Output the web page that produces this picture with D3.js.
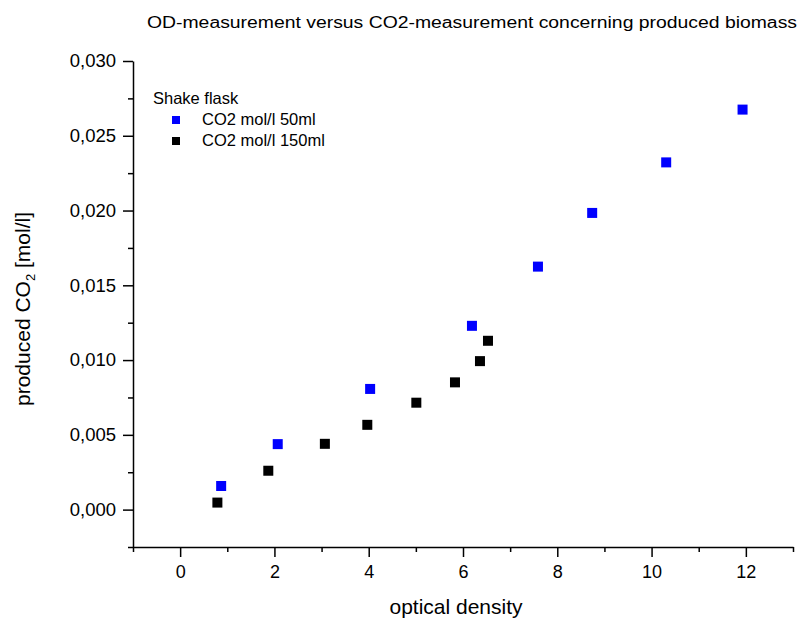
<!DOCTYPE html>
<html>
<head>
<meta charset="utf-8">
<script src="https://cdn.jsdelivr.net/npm/d3@7"></script>
<style>
  body { margin: 0; background: #fff; }
  svg { font-family: "Liberation Sans", Arial, sans-serif; }
</style>
</head>
<body>
<div id="chart"></div>
<script>
// shake flask data: optical density vs produced CO2 (mol/l)
const od50 = [0.87, 2.07, 4.03, 6.19, 7.59, 8.74, 10.31, 11.93];
const co2_50 = [0.00158, 0.00438, 0.00807, 0.01229, 0.01625, 0.01984, 0.02322, 0.02675];
const od150 = [0.79, 1.87, 3.07, 3.97, 5.01, 5.83, 6.36, 6.53];
const co2_150 = [0.00047, 0.0026, 0.0044, 0.00567, 0.00715, 0.00851, 0.00993, 0.01129];

const xMajor = [0, 2, 4, 6, 8, 10, 12];
const xMinor = [-1, 1, 3, 5, 7, 9, 11, 13];
const yMajor = [0, 0.005, 0.01, 0.015, 0.02, 0.025, 0.03];
const yMinor = [-0.0025, 0.0025, 0.0075, 0.0125, 0.0175, 0.0225, 0.0275];

const seriesNames = ["CO2 mol/l 50ml", "CO2 mol/l 150ml"];
const seriesColors = ["#0000ff", "#000000"];

const W = 800, H = 622;
const margin = { left: 133, right: 7, top: 61, bottom: 75 };
const width = W - margin.left - margin.right;
const height = H - margin.top - margin.bottom;

const svg = d3.select("#chart").append("svg")
  .attr("width", W).attr("height", H);

svg.append("rect").attr("width", W).attr("height", H).attr("fill", "#fff");

const g = svg.append("g")
  .attr("transform", `translate(${margin.left},${margin.top})`);

const x = d3.scaleLinear().domain([-1, 13]).range([0, width]);
const y = d3.scaleLinear().domain([-0.0025, 0.03]).range([height, 0]);

const comma = d3.formatLocale({ decimal: ",", thousands: ".", grouping: [3], currency: ["", ""] });
const yFmt = comma.format(".3f");

// minor ticks first
g.append("g")
  .attr("transform", `translate(0,${height})`)
  .call(d3.axisBottom(x).tickValues(xMinor).tickSize(5).tickFormat(""))
  .call(a => a.select(".domain").remove());
g.append("g")
  .call(d3.axisLeft(y).tickValues(yMinor).tickSize(5).tickFormat(""))
  .call(a => a.select(".domain").remove());

const xAxis = g.append("g")
  .attr("transform", `translate(0,${height})`)
  .call(d3.axisBottom(x).tickValues(xMajor).tickSize(10).tickSizeOuter(0).tickPadding(8));
const yAxis = g.append("g")
  .call(d3.axisLeft(y).tickValues(yMajor).tickSize(10).tickSizeOuter(0).tickPadding(7).tickFormat(yFmt));

g.selectAll(".tick line, .domain").attr("stroke", "#000").attr("stroke-width", 1.5);
xAxis.selectAll("text").attr("font-size", 18).attr("fill", "#000")
  .attr("font-family", "'Liberation Sans', Arial, sans-serif");
yAxis.selectAll("text").attr("font-size", 18.5).attr("fill", "#000")
  .attr("font-family", "'Liberation Sans', Arial, sans-serif");

// markers
const series = [
  { name: seriesNames[0], color: seriesColors[0], pts: od50.map((d, i) => [d, co2_50[i]]) },
  { name: seriesNames[1], color: seriesColors[1], pts: od150.map((d, i) => [d, co2_150[i]]) }
];
const ms = 10;
series.forEach(s => {
  g.selectAll(null).data(s.pts).enter().append("rect")
    .attr("x", d => x(d[0]) - ms / 2)
    .attr("y", d => y(d[1]) - ms / 2)
    .attr("width", ms).attr("height", ms)
    .attr("fill", s.color);
});

// title
svg.append("text")
  .attr("x", 147).attr("y", 28)
  .attr("font-size", 16)
  .attr("textLength", 650)
  .attr("lengthAdjust", "spacingAndGlyphs")
  .text("OD-measurement versus CO2-measurement concerning produced biomass");

// axis labels
svg.append("text")
  .attr("x", 456).attr("y", 614)
  .attr("text-anchor", "middle")
  .attr("font-size", 21)
  .text("optical density");

const yl = svg.append("text")
  .attr("transform", "translate(30,309) rotate(-90)")
  .attr("text-anchor", "middle")
  .attr("font-size", 21);
yl.append("tspan").text("produced CO");
yl.append("tspan").attr("font-size", 13).attr("dy", 5).text("2");
yl.append("tspan").attr("dy", -5).text(" [mol/l]");

// legend
const legend = svg.append("g").attr("transform", "translate(153,104)");
legend.append("text").attr("font-size", 16.5).text("Shake flask");
series.forEach((s, i) => {
  const row = legend.append("g").attr("transform", `translate(0,${21 + i * 21})`);
  row.append("rect").attr("x", 19).attr("y", -9).attr("width", 8).attr("height", 8).attr("fill", s.color);
  row.append("text").attr("x", 49).attr("font-size", 16.5).text(s.name);
});
</script>
</body>
</html>
